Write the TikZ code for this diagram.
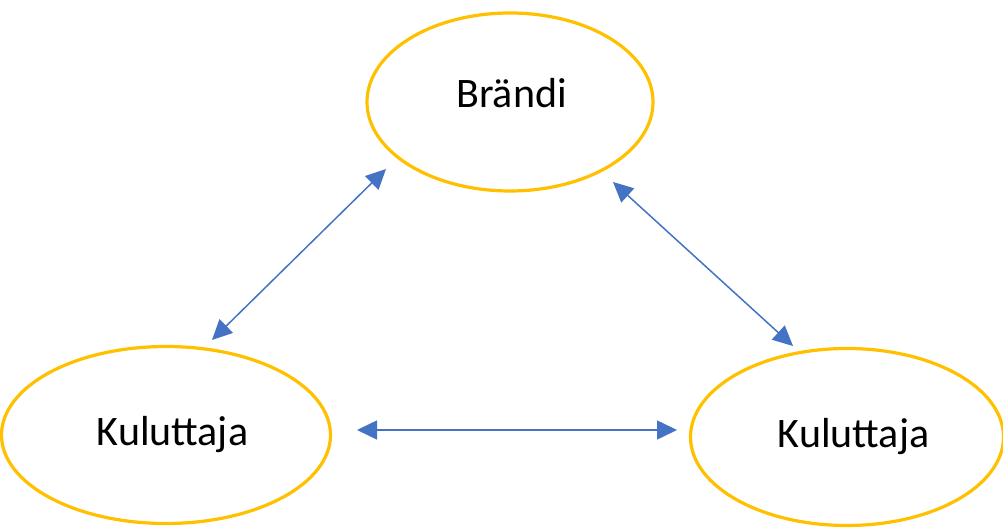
\documentclass[tikz,border=0pt]{standalone}
\usepackage{fontspec}
\setmainfont{Carlito}
\usetikzlibrary{shapes.geometric,arrows.meta}
\definecolor{gold}{HTML}{FFC000}
\definecolor{arrowblue}{HTML}{4472C4}
\begin{document}
\begin{tikzpicture}[x=1pt,y=1pt,
  oval/.style={ellipse,draw=gold,line width=3.2pt,inner sep=0pt,font=\fontsize{42}{48}\selectfont},
  link/.style={draw=arrowblue,line width=1.5pt,{Triangle[length=20pt,width=19pt]}-{Triangle[length=20pt,width=19pt]}}]
\useasboundingbox (0,0) rectangle (1003,529);
\node[oval,minimum width=286pt,minimum height=178pt] (brand) at (510,427) {\raisebox{18pt}{\hspace*{3pt}Brändi}};
\node[oval,minimum width=329pt,minimum height=177pt] (left) at (166,94) {\raisebox{4pt}{\hspace*{13pt}Kuluttaja}};
\node[oval,minimum width=313pt,minimum height=177pt] (right) at (847,92) {\raisebox{5pt}{\hspace*{13pt}Kuluttaja}};
\coordinate (a1) at (386,360);
\coordinate (a2) at (212,189);
\coordinate (b1) at (613,347);
\coordinate (b2) at (793,183);
\coordinate (c1) at (357,99);
\coordinate (c2) at (677,99);
\draw[link] (a1) -- (a2);
\draw[link] (b1) -- (b2);
\draw[link] (c1) -- (c2);
\end{tikzpicture}
\end{document}
